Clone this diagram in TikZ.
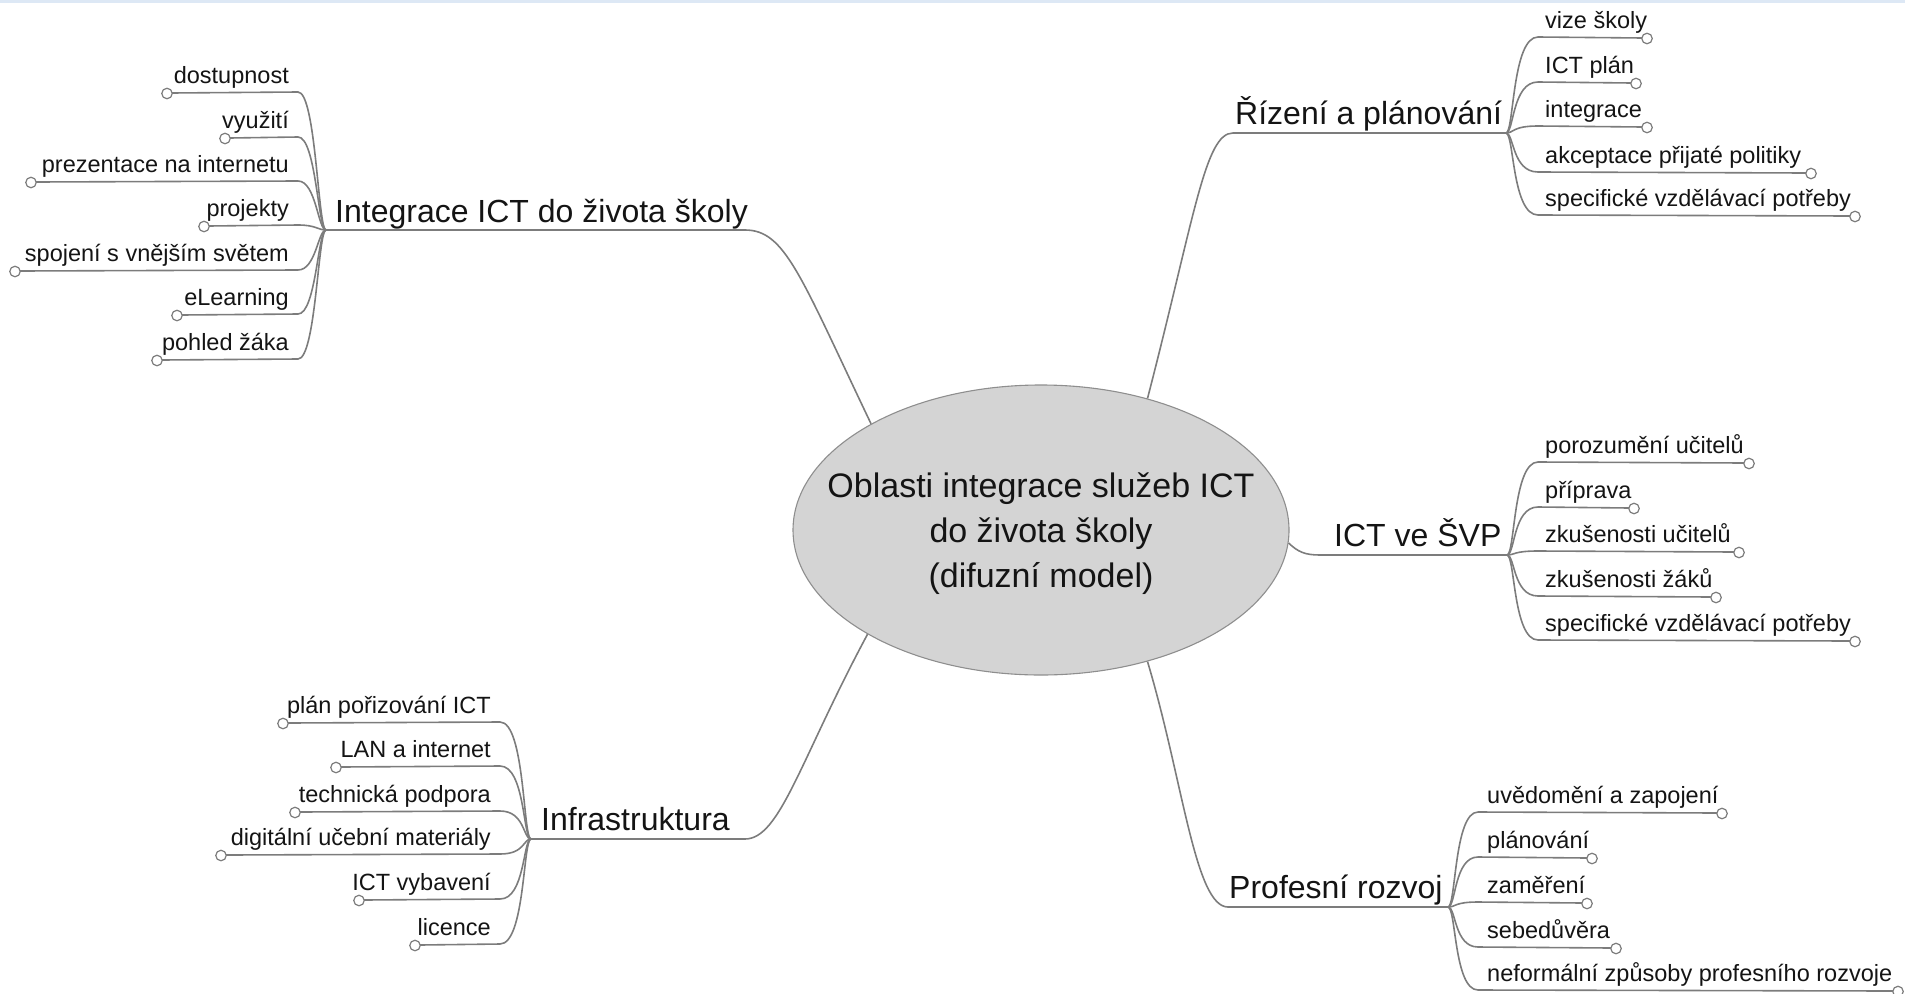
\documentclass[tikz,border=0pt]{standalone}
\usepackage{fontspec}
\setmainfont{Liberation Sans}
\usetikzlibrary{shapes.geometric}
\definecolor{linegray}{HTML}{7C7C7C}
\definecolor{ellfill}{HTML}{D4D4D4}
\definecolor{ellline}{HTML}{8E8E8E}
\definecolor{topband}{HTML}{DDE8F5}
\definecolor{txt}{HTML}{141414}
\begin{document}
\begin{tikzpicture}[x=1pt,y=-1pt,
  br/.style={draw=linegray, line width=1.6pt},
  leaf/.style={font=\fontsize{23.5}{28}\selectfont, text=txt, inner sep=0pt},
  mainlbl/.style={font=\fontsize{32}{38}\selectfont, text=txt, inner sep=0pt},
  dot/.style={circle, draw=linegray, fill=white, line width=1.2pt, minimum size=10.5pt, inner sep=0pt}]
\useasboundingbox (0,0) rectangle (1905,993);
\fill[topband] (0,0) rectangle (1905,2.5);

% root
\node[ellipse, draw=ellline, fill=ellfill, line width=1.1pt, minimum width=496pt, minimum height=290pt, inner sep=0pt] (root) at (1041,530) {};
\node[align=center, font=\fontsize{34}{45}\selectfont, text=txt] (rootlbl) at (1041,534) {Oblasti integrace služeb ICT\\do života školy\\(difuzní model)};

% forks
\coordinate (f1) at (326,230);
\coordinate (f2) at (1506,133);
\coordinate (f3) at (1507,555);
\coordinate (f4) at (1448,907);
\coordinate (f5) at (531,839);

% main labels
\node[mainlbl, anchor=base west] (m1) at (335,222) {Integrace ICT do života školy};
\node[mainlbl, anchor=base west] (m2) at (1235,124) {Řízení a plánování};
\node[mainlbl, anchor=base west] (m3) at (1334,546) {ICT ve ŠVP};
\node[mainlbl, anchor=base west] (m4) at (1229,898) {Profesní rozvoj};
\node[mainlbl, anchor=base west] (m5) at (541,830) {Infrastruktura};

% main connectors
\draw[br] (root.148.5) .. controls (800,275) and (785,230) .. (745,230) -- (f1);
\draw[br] (root.51) .. controls (1195,215) and (1205,133) .. (1233,133) -- (f2);
\draw[br] (root.-3) .. controls (1298,552) and (1305,555) .. (1320,555) -- (f3);
\draw[br] (root.-51) .. controls (1183,780) and (1195,907) .. (1228,907) -- (f4);
\draw[br] (root.211.5) .. controls (800,760) and (780,839) .. (745,839) -- (f5);

% top-left children
\foreach \t/\y/\cx [count=\i] in {dostupnost/92/167, využití/137/225, prezentace na internetu/181/31, projekty/225/204, spojení s vnějším světem/270/15, eLearning/314/177, pohled žáka/359/157}{
  \node[leaf, anchor=base east] (a\i) at (289,\y-9) {\t};
  \draw[br] (f1) .. controls (318,230) and (316,\y) .. (298,\y) -- (\cx+5,\y+1);
  \node[dot] (ad\i) at (\cx,\y+1.5) {};
}

% top-right children
\foreach \t/\y/\cx [count=\i] in {vize školy/37/1647, ICT plán/82/1636, integrace/126/1647, akceptace přijaté politiky/172/1811, specifické vzdělávací potřeby/215/1855}{
  \node[leaf, anchor=base west] (b\i) at (1545,\y-9) {\t};
  \draw[br] (f2) .. controls (1514,133) and (1512,\y) .. (1538,\y) -- (\cx-5,\y+1);
  \node[dot] (bd\i) at (\cx,\y+1.5) {};
}

% right-middle children
\foreach \t/\y/\cx [count=\i] in {porozumění učitelů/462/1749, příprava/507/1634, zkušenosti učitelů/551/1739, zkušenosti žáků/596/1716, specifické vzdělávací potřeby/640/1855}{
  \node[leaf, anchor=base west] (c\i) at (1545,\y-9) {\t};
  \draw[br] (f3) .. controls (1515,555) and (1513,\y) .. (1538,\y) -- (\cx-5,\y+1);
  \node[dot] (cd\i) at (\cx,\y+1.5) {};
}

% right-bottom children
\foreach \t/\y/\cx [count=\i] in {uvědomění a zapojení/812/1722, plánování/857/1592, zaměření/902/1587, sebedůvěra/947/1616, neformální způsoby profesního rozvoje/990/1898}{
  \node[leaf, anchor=base west] (d\i) at (1487,\y-9) {\t};
  \draw[br] (f4) .. controls (1456,907) and (1454,\y) .. (1478,\y) -- (\cx-5,\y+1);
  \node[dot] (dd\i) at (\cx,\y+1.5) {};
}

% left-bottom children
\foreach \t/\y/\cx [count=\i] in {plán pořizování ICT/722/283, LAN a internet/766/336, technická podpora/811/295, digitální učební materiály/854/221, ICT vybavení/899/359, licence/944/415}{
  \node[leaf, anchor=base east] (e\i) at (491,\y-9) {\t};
  \draw[br] (f5) .. controls (523,839) and (525,\y) .. (500,\y) -- (\cx+5,\y+1);
  \node[dot] (ed\i) at (\cx,\y+1.5) {};
}
\end{tikzpicture}
\end{document}
